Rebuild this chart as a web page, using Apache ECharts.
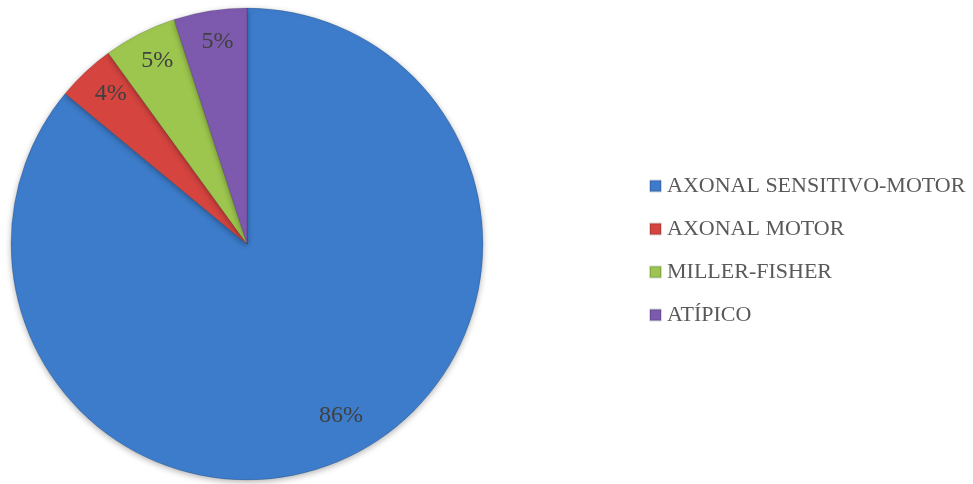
<!DOCTYPE html>
<html>
<head>
<meta charset="utf-8">
<script src="https://cdn.jsdelivr.net/npm/echarts@6/dist/echarts.min.js"></script>
<style>
  html, body { margin: 0; padding: 0; background: #fff; }
  #chart { width: 973px; height: 484px; }
</style>
</head>
<body>
<div id="chart"></div>
<script>
// Data
const categories = ['AXONAL SENSITIVO-MOTOR', 'AXONAL MOTOR', 'MILLER-FISHER', 'ATÍPICO'];
const values = [86, 4, 5, 5];
const colors = ['#3d7cca', '#d5443f', '#9dc64e', '#7d5aae'];

const chart = echarts.init(document.getElementById('chart'));
const fontFamily = 'Liberation Serif, DejaVu Serif, serif';

const pieData = categories.map((name, i) => ({
  name,
  value: values[i],
  itemStyle: { color: colors[i] }
}));

const option = {
  animation: false,
  legend: {
    orient: 'vertical',
    left: 644,
    top: 170,
    itemWidth: 11,
    itemHeight: 11,
    itemGap: 21,
    icon: 'rect',
    textStyle: { color: '#595959', fontSize: 22, fontFamily, padding: [0, 0, 0, 1] },
    data: categories
  },
  series: [
    {
      type: 'pie',
      center: [247, 244],
      radius: [0, 236],
      startAngle: 90,
      clockwise: true,
      label: { show: false },
      labelLine: { show: false },
      itemStyle: {
        borderColor: 'rgba(0,0,0,0.15)',
        borderWidth: 1,
        shadowBlur: 6,
        shadowOffsetY: 2,
        shadowColor: 'rgba(0,0,0,0.3)'
      },
      emphasis: { disabled: true },
      data: pieData
    },
    {
      // transparent ring only used to place labels near the rim
      type: 'pie',
      center: [247, 244],
      radius: [162, 236],
      startAngle: 90,
      clockwise: true,
      silent: true,
      legendHoverLink: false,
      itemStyle: { color: 'rgba(0,0,0,0)' },
      label: {
        show: true,
        position: 'inside',
        formatter: '{d}%',
        color: '#404040',
        fontSize: 24,
        fontFamily
      },
      // the big slice's label sits a bit further in
      labelLayout: (p) => (p.dataIndex === 0 ? { dx: 8, dy: -11 } : { dx: 2, dy: -3 }),
      labelLine: { show: false },
      emphasis: { disabled: true },
      data: categories.map((name, i) => ({ name: name + ' ', value: values[i] }))
    }
  ]
};

chart.setOption(option);
</script>
</body>
</html>
